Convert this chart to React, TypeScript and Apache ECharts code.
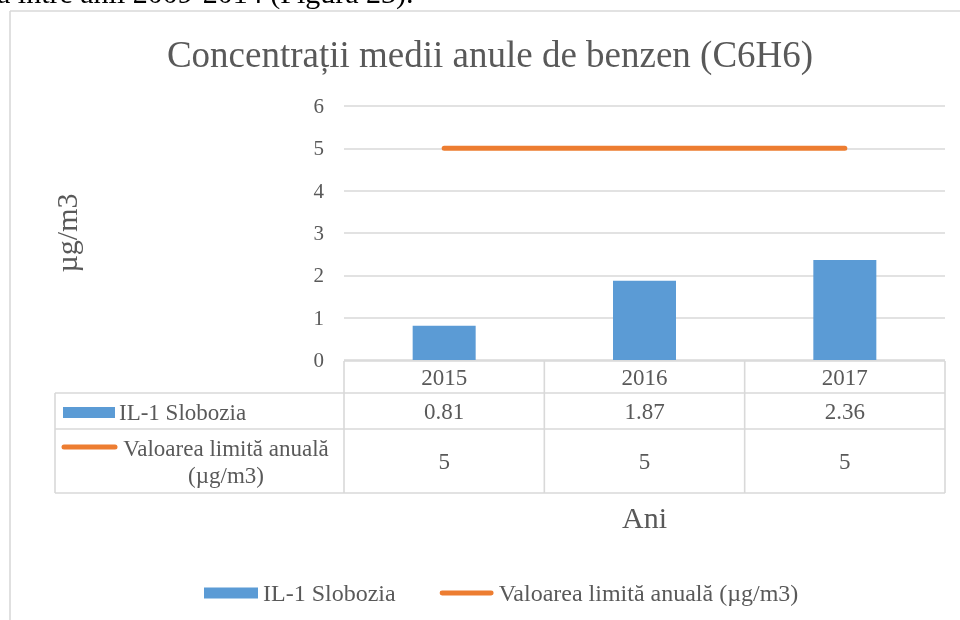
import React, { useEffect, useRef } from "react";
import * as echarts from "echarts";

const categories = ["2015", "2016", "2017"];
const sloboziaValues = [0.81, 1.87, 2.36];
const limitValues = [5, 5, 5];
const seriesNames = ["IL-1 Slobozia", "Valoarea limită anuală (µg/m3)"];
const tableLimitLabel = "Valoarea limită anuală\n(µg/m3)";
const chartTitle = "Concentrații medii anule de benzen (C6H6)";
const yAxisTitle = "µg/m3";
const xAxisTitle = "Ani";
const docText = "a între anii 2009-2014 (Figura 23).";

const FONT = "'Liberation Serif', 'Times New Roman', serif";
const TXT = "#595959";
const GRIDC = "#d9d9d9";
const BLUE = "#5B9BD5";
const ORANGE = "#ED7D31";

// layout
const W = 960;
const H = 620;
const PLOT_L = 344;
const PLOT_R = 945;
const PLOT_T = 106;
const PLOT_B = 360;
const TABLE_L = 55;
const ROW_Y = [361, 393, 429, 493];

const LINE_ICON = "path://M2.5,0 L52.5,0 A2.5,2.5 0 0 1 52.5,5 L2.5,5 A2.5,2.5 0 0 1 2.5,0 Z";

export default function App() {
  const ref = useRef<HTMLDivElement>(null);
  useEffect(() => {
    document.body.style.margin = "0";
    const chart = echarts.init(ref.current!, null, { renderer: "svg" });
    const colW = (PLOT_R - PLOT_L) / categories.length;
    const lineStyle = { stroke: GRIDC, lineWidth: 1.6 };
    const graphics: any[] = [];
    // chart area border
    graphics.push({ type: "line", shape: { x1: 10, y1: 11, x2: W, y2: 11 }, style: lineStyle, silent: true });
    graphics.push({ type: "line", shape: { x1: 10, y1: 11, x2: 10, y2: H }, style: lineStyle, silent: true });
    // document text cut at top
    graphics.push({
      type: "text", x: -3, y: -8,
      style: { text: docText, fill: "#000", font: `30px ${FONT}`, textAlign: "left", textVerticalAlign: "middle" },
    });
    // title
    graphics.push({
      type: "text", x: 490, y: 54,
      style: { text: chartTitle, fill: TXT, font: `37px ${FONT}`, textAlign: "center", textVerticalAlign: "middle" },
    });
    // y axis title
    graphics.push({
      type: "text", x: 66, y: 233, rotation: Math.PI / 2,
      style: { text: yAxisTitle, fill: TXT, font: `30px ${FONT}`, textAlign: "center", textVerticalAlign: "middle" },
    });
    // x axis title
    graphics.push({
      type: "text", x: (PLOT_L + PLOT_R) / 2, y: 517,
      style: { text: xAxisTitle, fill: TXT, font: `30px ${FONT}`, textAlign: "center", textVerticalAlign: "middle" },
    });
    // data table lines
    graphics.push({ type: "line", shape: { x1: PLOT_L, y1: ROW_Y[0], x2: PLOT_R, y2: ROW_Y[0] }, style: lineStyle });
    for (let r = 1; r < ROW_Y.length; r++) {
      graphics.push({ type: "line", shape: { x1: TABLE_L, y1: ROW_Y[r], x2: PLOT_R, y2: ROW_Y[r] }, style: lineStyle });
    }
    graphics.push({ type: "line", shape: { x1: TABLE_L, y1: ROW_Y[1], x2: TABLE_L, y2: ROW_Y[3] }, style: lineStyle });
    for (let c = 0; c <= categories.length; c++) {
      const x = PLOT_L + c * colW;
      graphics.push({ type: "line", shape: { x1: x, y1: ROW_Y[0], x2: x, y2: ROW_Y[3] }, style: lineStyle });
    }
    const cellText = (t: string, x: number, y: number, align = "center") => ({
      type: "text", x, y,
      style: { text: t, fill: TXT, font: `23px ${FONT}`, textAlign: align, textVerticalAlign: "middle" },
    });
    categories.forEach((cat, i) => {
      const cx = PLOT_L + (i + 0.5) * colW;
      graphics.push(cellText(cat, cx, (ROW_Y[0] + ROW_Y[1]) / 2));
      graphics.push(cellText(String(sloboziaValues[i]), cx, (ROW_Y[1] + ROW_Y[2]) / 2));
      graphics.push(cellText(String(limitValues[i]), cx, (ROW_Y[2] + ROW_Y[3]) / 2));
    });
    // table legend keys
    graphics.push({ type: "rect", shape: { x: 63, y: 407, width: 52, height: 11 }, style: { fill: BLUE } });
    graphics.push(cellText(seriesNames[0], 119, 412, "left"));
    graphics.push({
      type: "line", shape: { x1: 64, y1: 447, x2: 115, y2: 447 },
      style: { stroke: ORANGE, lineWidth: 5, lineCap: "round" },
    });
    graphics.push({
      type: "text", x: 226, y: 461.5,
      style: { text: tableLimitLabel, fill: TXT, font: `23px ${FONT}`, lineHeight: 27, textAlign: "center", textVerticalAlign: "middle" },
    });

    chart.setOption({
      animation: false,
      grid: { left: PLOT_L, right: W - PLOT_R, top: PLOT_T, bottom: H - PLOT_B, containLabel: false },
      xAxis: {
        type: "category",
        data: categories,
        axisLine: { show: false },
        axisTick: { show: false },
        axisLabel: { show: false },
        splitLine: { show: false },
      },
      yAxis: {
        type: "value",
        min: 0,
        max: 6,
        interval: 1,
        axisLine: { show: false },
        axisTick: { show: false },
        axisLabel: { color: TXT, fontSize: 21, fontFamily: FONT, margin: 20 },
        splitLine: { lineStyle: { color: GRIDC, width: 1.6 } },
      },
      legend: {
        left: 199,
        top: 576,
        itemGap: 44,
        itemWidth: 54,
        itemHeight: 11,
        textStyle: { color: TXT, fontSize: 24, fontFamily: FONT },
        data: [
          { name: seriesNames[0], icon: "rect" },
          { name: seriesNames[1], icon: LINE_ICON },
        ],
      },
      series: [
        {
          name: seriesNames[0],
          type: "bar",
          data: sloboziaValues,
          barWidth: 63,
          itemStyle: { color: BLUE },
        },
        {
          name: seriesNames[1],
          type: "line",
          data: limitValues,
          symbol: "none",
          lineStyle: { color: ORANGE, width: 5, cap: "round" },
          itemStyle: { color: ORANGE },
        },
      ],
      graphic: graphics,
    });
    return () => chart.dispose();
  }, []);
  return <div ref={ref} style={{ position: "fixed", left: 0, top: 0, width: W, height: H }} />;
}
